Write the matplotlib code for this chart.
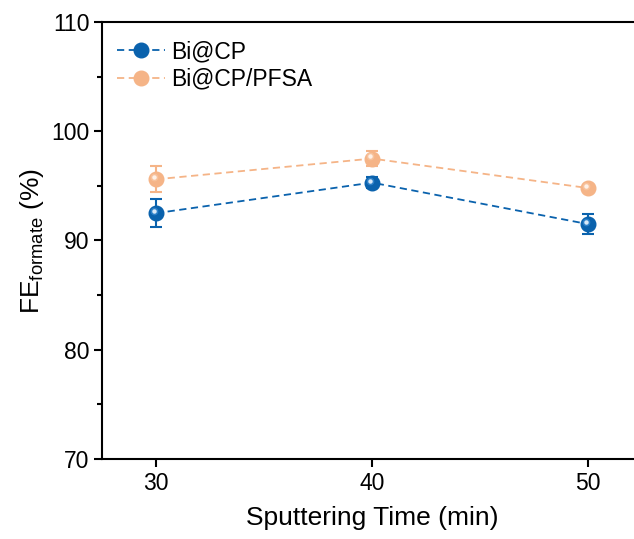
import matplotlib
matplotlib.use("Agg")
import matplotlib.pyplot as plt
import matplotlib.transforms as mtransforms
from matplotlib.ticker import MultipleLocator
from matplotlib.lines import Line2D

plt.rcParams['font.family'] = ['Liberation Sans', 'DejaVu Sans']
plt.rcParams['mathtext.fontset'] = 'custom'
plt.rcParams['mathtext.rm'] = 'Liberation Sans'
plt.rcParams['mathtext.it'] = 'Liberation Sans:italic'

times = [30, 40, 50]
bi_cp = [92.5, 95.3, 91.5]
bi_cp_err = [1.3, 0.5, 0.9]
bi_pfsa = [95.6, 97.5, 94.8]
bi_pfsa_err = [1.2, 0.7, 0.3]
labels = ["Bi@CP", "Bi@CP/PFSA"]
colors = ["#0a62ad", "#f5b487"]
mids = ["#3d8ed4", "#f8c8a6"]
hilites = ["#e3f0fb", "#fff4ec"]

fig = plt.figure(figsize=(6.34, 5.39), dpi=100)
ax = fig.add_axes([102/634, 1-459/539, 540/634, 437/539])

series = [(bi_cp, bi_cp_err), (bi_pfsa, bi_pfsa_err)]
offset = mtransforms.ScaledTranslation(-1.2/72, 1.5/72, fig.dpi_scale_trans)
for (vals, errs), lab, c, m, h in zip(series, labels, colors, mids, hilites):
    ax.errorbar(times, vals, yerr=errs, color=c, ls=(0, (4, 2.5)), lw=1.3,
                marker='o', ms=10.5, mec=c, mfc=c, capsize=4, capthick=1.5,
                elinewidth=1.5, zorder=3)
    ax.plot(times, vals, ls='none', marker='o', ms=5.5, mfc=m, mec='none',
            alpha=0.7, transform=ax.transData + offset, zorder=4)
    ax.plot(times, vals, ls='none', marker='o', ms=3.2, mfc=h, mec='none',
            alpha=0.95, transform=ax.transData + offset, zorder=5)

handles = [Line2D([], [], color=c, ls=(0, (4, 2.5)), lw=1.3, marker='o', ms=10.5,
                  mfc=c, mec=c) for c in colors]
ax.legend(handles, labels, loc='upper left', frameon=False, fontsize=16.5,
          handlelength=2.1, handletextpad=0.25, borderaxespad=0.25,
          labelspacing=0.2, bbox_to_anchor=(0.0, 0.993))

ax.set_xlim(27.5, 52.5)
ax.set_ylim(70, 110)
ax.set_xticks(times)
ax.yaxis.set_major_locator(MultipleLocator(10))
ax.yaxis.set_minor_locator(MultipleLocator(5))
ax.tick_params(axis='both', which='major', direction='out', length=6, width=1.5,
               labelsize=16.5, pad=3)
ax.tick_params(axis='both', which='minor', direction='out', length=3.5, width=1.5)
for s in ax.spines.values():
    s.set_linewidth(1.5)

ax.set_xlabel("Sputtering Time (min)", fontsize=19, labelpad=8)
ax.set_ylabel(r"FE$_{\mathrm{formate}}$ (%)", fontsize=19, labelpad=4)

fig.savefig("out.png", dpi=100)
